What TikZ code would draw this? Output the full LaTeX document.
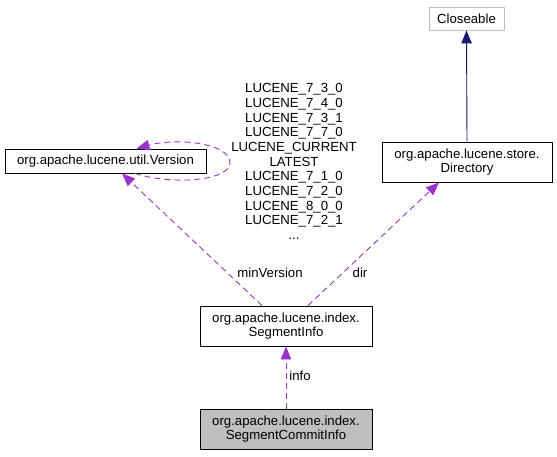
\documentclass[tikz,border=0pt]{standalone}
\usepackage{fontspec}
\setmainfont{Liberation Sans}
\usetikzlibrary{arrows.meta}
\definecolor{edgepurple}{HTML}{9A32CD}
\definecolor{navyblue}{HTML}{191970}
\definecolor{boxgray}{HTML}{BFBFBF}
\tikzset{
  cls/.style={draw=black, line width=0.9pt, fill=white, inner sep=0pt, align=center,
    font=\fontsize{13.2pt}{14.7pt}\selectfont},
  grayfill/.style={cls, fill=boxgray},
  extcls/.style={cls, draw=boxgray},
  usedge/.style={draw=edgepurple, dashed, dash pattern=on 6pt off 4pt, line width=0.9pt,
    -{Triangle[length=13pt,width=10.5pt]}},
  inhedge/.style={draw=navyblue, line width=0.9pt, -{Triangle[length=13pt,width=10.5pt]}},
  elabel/.style={font=\fontsize{13.2pt}{14.7pt}\selectfont, inner sep=0pt, align=center}
}
\begin{document}
\begin{tikzpicture}[x=1pt,y=-1pt]
\useasboundingbox (0,0) rectangle (557,456);
\node[extcls, minimum width=75pt, minimum height=23pt] (close) at (466.5,18.5) {Closeable};
\node[cls, minimum width=170pt, minimum height=40pt] (dir) at (467,162) {org.apache.lucene.store.\\Directory};
\node[cls, minimum width=201pt, minimum height=24pt] (ver) at (105.5,161) {org.apache.lucene.util.Version};
\node[cls, minimum width=172pt, minimum height=40pt] (si) at (286,326) {org.apache.lucene.index.\\SegmentInfo};
\node[grayfill, minimum width=172pt, minimum height=40pt] (sci) at (286,429) {org.apache.lucene.index.\\SegmentCommitInfo};

\draw[inhedge] (dir.north) -- (close.south);
\draw[usedge] (sci.north) -- (si.south) node[elabel, pos=0.52, right=3pt] {info};
\draw[usedge] ([xshift=-24pt]si.north) -- ([xshift=16.5pt]ver.south);
\draw[usedge] ([xshift=22pt]si.north) -- ([xshift=-28pt]dir.south);
\node[elabel] (lminv) at (270,273) {minVersion};
\node[elabel] (ldir) at (360,273) {dir};
\draw[usedge] ([xshift=29.5pt]ver.south) .. controls (175,186) and (232,180) .. (230,162)
  .. controls (228,142) and (175,138) .. ([xshift=31pt]ver.north);
\node[elabel] (lver) at (294,161.5) {LUCENE\_7\_3\_0\\LUCENE\_7\_4\_0\\LUCENE\_7\_3\_1\\LUCENE\_7\_7\_0\\LUCENE\_CURRENT\\LATEST\\LUCENE\_7\_1\_0\\LUCENE\_7\_2\_0\\LUCENE\_8\_0\_0\\LUCENE\_7\_2\_1\\...};
\end{tikzpicture}
\end{document}
